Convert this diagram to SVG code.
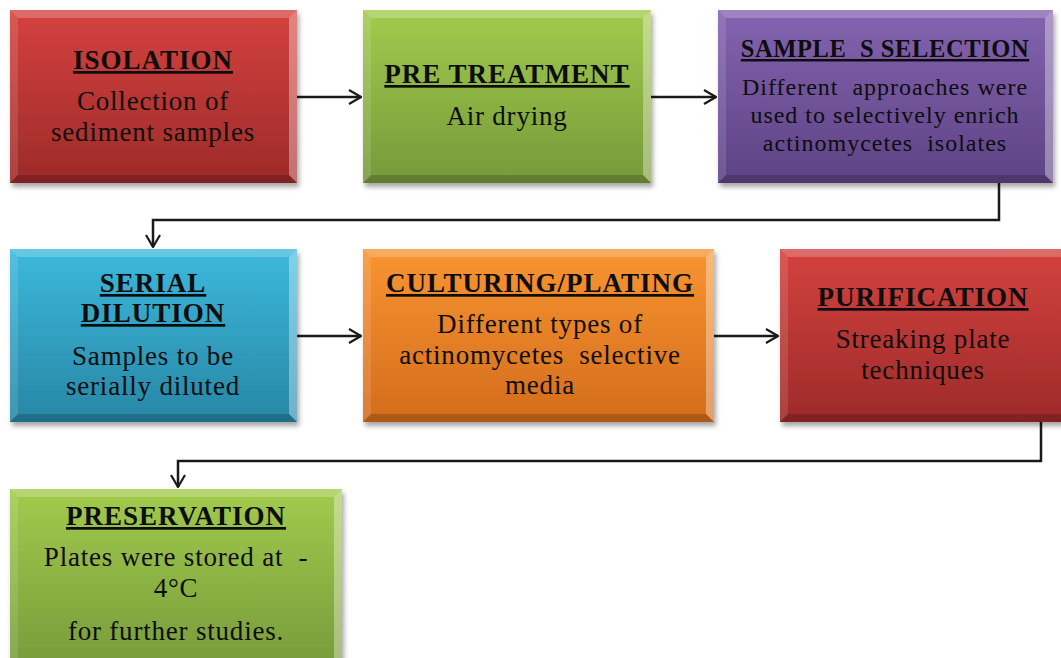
<svg xmlns="http://www.w3.org/2000/svg" width="1061" height="658" viewBox="0 0 1061 658">
<style>
.t{font-family:"Liberation Serif","Times New Roman",serif;fill:#0d0d0d;text-anchor:middle;white-space:pre}
.h{font-weight:bold;font-size:27px;letter-spacing:1px;text-decoration:underline}
.b{font-size:27px;letter-spacing:0.8px}
.hs{font-weight:bold;font-size:24.5px;letter-spacing:0.6px;text-decoration:underline}
.bs{font-size:24px;letter-spacing:1px}
.hi{fill:#fff;opacity:.22}
.hl{fill:#fff;opacity:.12}
.hr{fill:#fff;opacity:.35}
.sh{fill:#000;opacity:.18}
.c{fill:none;stroke:#1a1a1a;stroke-width:2.5}
</style>
<defs>
<linearGradient id="gRed" x1="0" y1="0" x2="0" y2="1"><stop offset="0" stop-color="#d4423f"/><stop offset="1" stop-color="#9d2a29"/></linearGradient>
<linearGradient id="gGreen" x1="0" y1="0" x2="0" y2="1"><stop offset="0" stop-color="#a2cb4d"/><stop offset="1" stop-color="#76993a"/></linearGradient>
<linearGradient id="gPurple" x1="0" y1="0" x2="0" y2="1"><stop offset="0" stop-color="#8463b0"/><stop offset="1" stop-color="#5d4384"/></linearGradient>
<linearGradient id="gBlue" x1="0" y1="0" x2="0" y2="1"><stop offset="0" stop-color="#3cb9dc"/><stop offset="1" stop-color="#2886a5"/></linearGradient>
<linearGradient id="gOrange" x1="0" y1="0" x2="0" y2="1"><stop offset="0" stop-color="#f89531"/><stop offset="1" stop-color="#d36c1c"/></linearGradient>
<filter id="ds" x="-5%" y="-5%" width="115%" height="120%"><feDropShadow dx="2" dy="4" stdDeviation="2.5" flood-color="#000" flood-opacity=".35"/></filter>
<marker id="ar" viewBox="0 0 14 16" refX="13" refY="8" markerWidth="14" markerHeight="16" markerUnits="userSpaceOnUse" orient="auto"><path d="M1,1 L13,8 L1,15" fill="none" stroke="#1a1a1a" stroke-width="2.2"/></marker>
</defs>
<rect width="1061" height="658" fill="#fff"/>

<g id="connectors">
<line class="c" x1="297" y1="97" x2="361" y2="97" marker-end="url(#ar)"/>
<line class="c" x1="651" y1="97" x2="716" y2="97" marker-end="url(#ar)"/>
<polyline class="c" points="999,183 999,220 153,220 153,247" marker-end="url(#ar)"/>
<line class="c" x1="297" y1="336" x2="361" y2="336" marker-end="url(#ar)"/>
<line class="c" x1="714" y1="336" x2="778" y2="336" marker-end="url(#ar)"/>
<polyline class="c" points="1041,422 1041,461 178,461 178,487" marker-end="url(#ar)"/>
</g>

<g id="isolation">
<rect x="10" y="10" width="287" height="173" fill="url(#gRed)" filter="url(#ds)"/>
<polygon class="hi" points="10,10 297,10 289,18 18,18"/>
<polygon class="hl" points="10,10 18,18 18,175 10,183"/>
<polygon class="hr" points="297,10 297,183 289,175 289,18"/>
<polygon class="sh" points="10,183 297,183 289,175 18,175"/>
<text class="t h" x="153" y="69">ISOLATION</text>
<text class="t b" x="153" y="110">Collection of</text>
<text class="t b" x="153" y="141">sediment samples</text>
</g>

<g id="pretreatment">
<rect x="363" y="10" width="288" height="173" fill="url(#gGreen)" filter="url(#ds)"/>
<polygon class="hi" points="363,10 651,10 643,18 371,18"/>
<polygon class="hl" points="363,10 371,18 371,175 363,183"/>
<polygon class="hr" points="651,10 651,183 643,175 643,18"/>
<polygon class="sh" points="363,183 651,183 643,175 371,175"/>
<text class="t h" x="507" y="83">PRE TREATMENT</text>
<text class="t b" x="507" y="125">Air drying</text>
</g>

<g id="sampleselection">
<rect x="718" y="10" width="335" height="173" fill="url(#gPurple)" filter="url(#ds)"/>
<polygon class="hi" points="718,10 1053,10 1045,18 726,18"/>
<polygon class="hl" points="718,10 726,18 726,175 718,183"/>
<polygon class="hr" points="1053,10 1053,183 1045,175 1045,18"/>
<polygon class="sh" points="718,183 1053,183 1045,175 726,175"/>
<text class="t hs" x="885" y="57">SAMPLE  S SELECTION</text>
<text class="t bs" x="885" y="95">Different  approaches were</text>
<text class="t bs" x="885" y="123">used to selectively enrich</text>
<text class="t bs" x="885" y="151">actinomycetes  isolates</text>
</g>

<g id="serialdilution">
<rect x="10" y="249" width="287" height="173" fill="url(#gBlue)" filter="url(#ds)"/>
<polygon class="hi" points="10,249 297,249 289,257 18,257"/>
<polygon class="hl" points="10,249 18,257 18,414 10,422"/>
<polygon class="hr" points="297,249 297,422 289,414 289,257"/>
<polygon class="sh" points="10,422 297,422 289,414 18,414"/>
<text class="t h" x="153" y="292">SERIAL</text>
<text class="t h" x="153" y="322">DILUTION</text>
<text class="t b" x="153" y="365">Samples to be</text>
<text class="t b" x="153" y="395">serially diluted</text>
</g>

<g id="culturing">
<rect x="363" y="249" width="351" height="173" fill="url(#gOrange)" filter="url(#ds)"/>
<polygon class="hi" points="363,249 714,249 706,257 371,257"/>
<polygon class="hl" points="363,249 371,257 371,414 363,422"/>
<polygon class="hr" points="714,249 714,422 706,414 706,257"/>
<polygon class="sh" points="363,422 714,422 706,414 371,414"/>
<text class="t h" x="540" y="292">CULTURING/PLATING</text>
<text class="t b" x="540" y="333">Different types of</text>
<text class="t b" x="540" y="364">actinomycetes  selective</text>
<text class="t b" x="540" y="394">media</text>
</g>

<g id="purification">
<rect x="780" y="249" width="290" height="173" fill="url(#gRed)" filter="url(#ds)"/>
<polygon class="hi" points="780,249 1070,249 1062,257 788,257"/>
<polygon class="hl" points="780,249 788,257 788,414 780,422"/>
<polygon class="sh" points="780,422 1070,422 1062,414 788,414"/>
<text class="t h" x="923" y="306">PURIFICATION</text>
<text class="t b" x="923" y="348">Streaking plate</text>
<text class="t b" x="923" y="379">techniques</text>
</g>

<g id="preservation">
<rect x="10" y="489" width="332" height="185" fill="url(#gGreen)" filter="url(#ds)"/>
<polygon class="hi" points="10,489 342,489 334,497 18,497"/>
<polygon class="hl" points="10,489 18,497 18,674 10,674"/>
<polygon class="hr" points="342,489 342,674 334,674 334,497"/>
<text class="t h" x="176" y="525">PRESERVATION</text>
<text class="t b" x="176" y="566">Plates were stored at  -</text>
<text class="t b" x="176" y="597">4°C</text>
<text class="t b" x="176" y="640">for further studies.</text>
</g>
</svg>
